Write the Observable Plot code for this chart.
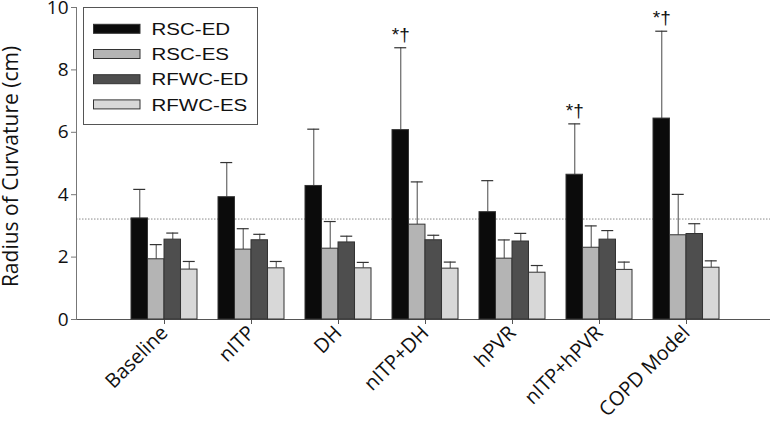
<!DOCTYPE html>
<html><head><meta charset="utf-8">
<script src="https://cdn.jsdelivr.net/npm/d3@7"></script>
<script src="https://cdn.jsdelivr.net/npm/@observablehq/plot@0.6"></script>
<style>
html,body{margin:0;padding:0;background:#fff;}
#wrap{position:relative;width:771px;height:424px;}
#legend{position:absolute;left:0;top:0;pointer-events:none;}
</style></head><body><div id="wrap"></div>
<script>
const categories = ["Baseline","nITP","DH","nITP+DH","hPVR","nITP+hPVR","COPD Model"];
const series = ["RSC-ED","RSC-ES","RFWC-ED","RFWC-ES"];
const colors = ["#0b0b0b","#b4b4b4","#4e4e4e","#d8d8d8"];
const rscED   = [3.24, 3.92, 4.28, 6.07, 3.44, 4.64, 6.44];
const rscEDsd = [0.93, 1.11, 1.82, 2.64, 1.01, 1.63, 2.80];
const rscES   = [1.93, 2.24, 2.27, 3.04, 1.95, 2.30, 2.70];
const rscESsd = [0.47, 0.67, 0.87, 1.37, 0.60, 0.70, 1.31];
const rfwcED   = [2.56, 2.54, 2.47, 2.54, 2.50, 2.56, 2.74];
const rfwcEDsd = [0.21, 0.19, 0.20, 0.16, 0.26, 0.29, 0.33];
const rfwcES   = [1.60, 1.64, 1.64, 1.63, 1.50, 1.59, 1.66];
const rfwcESsd = [0.26, 0.22, 0.19, 0.21, 0.23, 0.25, 0.22];
const sigMarks = ["", "", "", "*†", "", "*†", "*†"];
const refLine = 3.22;
const yTicks = [0, 2, 4, 6, 8, 10];
const yLabel = "Radius of Curvature (cm)";

const values = [rscED, rscES, rfwcED, rfwcES];
const sds = [rscEDsd, rscESsd, rfwcEDsd, rfwcESsd];
const rows = series.flatMap((s, i) => categories.map((c, j) => ({
  cat: c, series: s, value: values[i][j], sd: sds[i][j], sig: i === 0 ? sigMarks[j] : ""
})));

const W = 771, H = 424, ML = 76, MR = 1, MT = 7, MB = 105;
const xOpts = {type: "band", domain: categories, paddingInner: 0.244, paddingOuter: 0.595, align: 0.52};
const xs = Plot.scale({x: {...xOpts, range: [ML, W - MR]}});
const bw = xs.bandwidth, q = bw / 4, cap = 12;

const marks = [
  Plot.ruleY([refLine], {stroke: "#8a8a8a", strokeDasharray: "1.5,1.5"}),
  Plot.ruleY([0], {stroke: "#555"}),
  Plot.frame({anchor: "left", stroke: "#777"}),
  Plot.axisY({ticks: yTicks, tickSize: 5, tickPadding: 3, fontSize: 19, stroke: "#777", fill: "#111", label: null}),
  Plot.axisX({tickRotate: -45, tickSize: 5, tickPadding: 5, fontSize: 20, stroke: "#555", fill: "#111", label: null}),
  Plot.text([yLabel], {text: d => d, frameAnchor: "left", textAnchor: "middle", rotate: -90, dx: -65, dy: 3, fontSize: 21, fill: "#111"})
];
series.forEach((s, i) => {
  const d = rows.filter(r => r.series === s);
  const off = -bw / 2 + (i + 0.5) * q;
  marks.push(Plot.ruleX(d, {x: "cat", y1: "value", y2: r => r.value + r.sd, dx: off, stroke: "#666", strokeWidth: 1.2}));
  marks.push(Plot.tickY(d, {x: "cat", y: r => r.value + r.sd, insetLeft: i * q + (q - cap) / 2, insetRight: (3 - i) * q + (q - cap) / 2, stroke: "#333", strokeWidth: 1.2}));
  marks.push(Plot.barY(d, {x: "cat", y: "value", fill: "series", stroke: "#333", strokeWidth: 1, insetLeft: i * q, insetRight: (3 - i) * q}));
});
marks.push(Plot.text(rows.filter(r => r.sig), {x: "cat", y: r => r.value + r.sd, text: "sig", dx: -bw / 2 + q / 2, dy: -7, lineAnchor: "bottom", fontSize: 19, fontFamily: "'Liberation Sans', Arial, sans-serif", fill: "#111"}));

const chart = Plot.plot({
  width: W, height: H, marginLeft: ML, marginRight: MR, marginTop: MT, marginBottom: MB,
  style: {fontFamily: "'Open Sans', sans-serif", background: "#fff", color: "#111"},
  x: {...xOpts, axis: null},
  y: {domain: [0, 10], axis: null},
  color: {domain: series, range: colors},
  marks
});
const wrap = document.getElementById("wrap");
wrap.appendChild(chart);

// Legend overlay
const lg = d3.select(wrap).append("svg").attr("id", "legend").attr("width", W).attr("height", H);
lg.append("rect").attr("x", 83.5).attr("y", 7.5).attr("width", 174).attr("height", 117)
  .attr("fill", "#fff").attr("stroke", "#555").attr("stroke-width", 1);
series.forEach((s, i) => {
  const base = 35 + i * 25.2;
  lg.append("rect").attr("x", 93.5).attr("y", base - 10.7).attr("width", 46.5).attr("height", 9)
    .attr("fill", colors[i]).attr("stroke", "#333").attr("stroke-width", 1);
  lg.append("text").attr("transform", `translate(151.5,${base}) scale(1.26,1)`)
    .attr("font-family", "'Liberation Sans', Arial, sans-serif").attr("font-size", 16.3)
    .attr("fill", "#111").text(s);
});
</script></body></html>
